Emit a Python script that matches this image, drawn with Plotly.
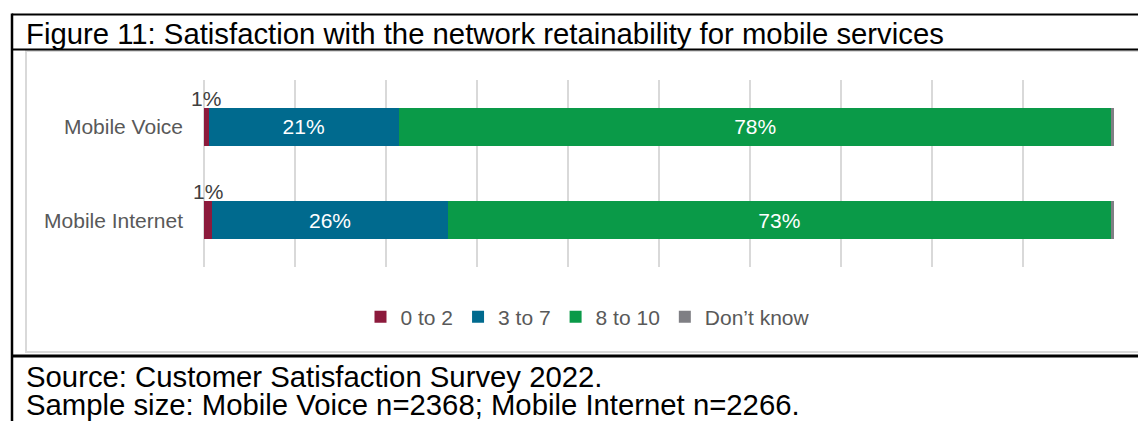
import plotly.graph_objects as go
import math

categories = ["Mobile Voice", "Mobile Internet"]
series_names = ["0 to 2", "3 to 7", "8 to 10", "Don\u2019t know"]
values_0_2 = [0.5, 0.9]
values_3_7 = [20.9, 25.9]
values_8_10 = [78.4, 72.9]
values_dk = [0.2, 0.3]
colors = ["#8C1A3C", "#006A8E", "#0A9A48", "#7F7F84"]

title_text = "Figure 11: Satisfaction with the network retainability for mobile services"
source_lines = ["Source: Customer Satisfaction Survey 2022.",
                "Sample size: Mobile Voice n=2368; Mobile Internet n=2266."]

# the page body has an 8px margin, so the figure is drawn 8px in from the corner
OFF = 8
W, H = 1146 - OFF, 421 - OFF
L, R, T, B = 204, 1114, 80, 267   # plot area in window pixels
FONT = "Liberation Sans, Arial, sans-serif"


def pct(v):
    return f"{int(math.floor(v + 0.5))}%"


def px(x):
    return (x - L) / (R - L)


def py(y):
    return (B - y) / (B - T)


fig = go.Figure()
series = [values_0_2, values_3_7, values_8_10, values_dk]
for name, vals, col in zip(series_names, series, colors):
    inside = name in ("3 to 7", "8 to 10")
    fig.add_trace(go.Bar(
        y=categories, x=vals, name=name, orientation="h",
        marker=dict(color=col, line=dict(width=0)),
        text=[pct(v) for v in vals] if inside else None,
        textposition="inside" if inside else "none",
        insidetextanchor="middle",
        textfont=dict(color="white", size=21, family=FONT),
        hoverinfo="x+name",
    ))

annotations = []
for cat, v in zip(categories, values_0_2):
    annotations.append(dict(
        x=v / 2, y=cat, xref="x", yref="y", text=pct(v), showarrow=False,
        xanchor="center", yanchor="bottom", yshift=15,
        font=dict(size=21, color="#404040", family=FONT)))

annotations.append(dict(
    x=px(24), y=py(34), xref="paper", yref="paper", text=title_text,
    showarrow=False, xanchor="left", yanchor="middle",
    font=dict(size=29.3, color="black", family=FONT)))
for i, line in enumerate(source_lines):
    annotations.append(dict(
        x=px(24), y=py(376 + 28 * i), xref="paper", yref="paper", text=line,
        showarrow=False, xanchor="left", yanchor="middle",
        font=dict(size=29.3, color="black", family=FONT)))

shapes = [
    # inner chart frame
    dict(type="rect", xref="paper", yref="paper", x0=px(26), x1=px(1142),
         y0=py(352), y1=py(51), line=dict(color="#D9D9D9", width=2)),
    # outer black lines
    dict(type="line", xref="paper", yref="paper", x0=px(12), x1=px(1150),
         y0=py(14.5), y1=py(14.5), line=dict(color="black", width=2)),
    dict(type="line", xref="paper", yref="paper", x0=px(12), x1=px(1150),
         y0=py(49.5), y1=py(49.5), line=dict(color="black", width=2)),
    dict(type="line", xref="paper", yref="paper", x0=px(12), x1=px(1150),
         y0=py(356), y1=py(356), line=dict(color="black", width=3)),
    dict(type="line", xref="paper", yref="paper", x0=px(12), x1=px(12),
         y0=py(13.5), y1=py(425), line=dict(color="black", width=2.5)),
]

fig.update_layout(
    width=W, height=H,
    margin=dict(l=L - OFF, r=W - (R - OFF), t=T - OFF, b=H - (B - OFF), pad=0),
    barmode="stack", bargap=0.59,
    paper_bgcolor="white", plot_bgcolor="white",
    font=dict(family=FONT, size=21, color="#595959"),
    showlegend=True,
    legend=dict(orientation="h", x=px(588), y=py(317), xanchor="center",
                yanchor="middle", itemwidth=30, traceorder="normal",
                font=dict(size=21, color="#595959", family=FONT),
                bgcolor="rgba(0,0,0,0)"),
    xaxis=dict(range=[0, 100.05], dtick=10, showgrid=True, gridcolor="#D9D9D9",
               gridwidth=1.5, zeroline=True, zerolinecolor="#D9D9D9",
               zerolinewidth=1.5, showticklabels=False, showline=False,
               fixedrange=True),
    yaxis=dict(categoryorder="array", categoryarray=categories,
               autorange="reversed", showgrid=False, zeroline=False,
               showline=False, ticks="", ticklabelstandoff=20,
               tickfont=dict(size=21, color="#595959", family=FONT),
               fixedrange=True),
    annotations=annotations, shapes=shapes,
)

fig.write_html("out.html")
